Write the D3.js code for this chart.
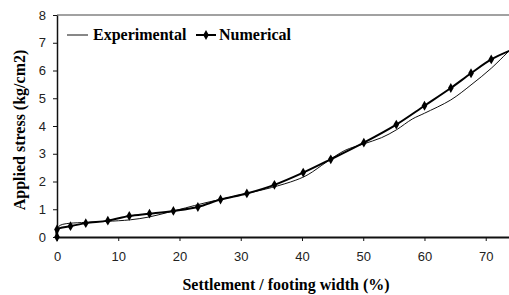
<!DOCTYPE html>
<html>
<head>
<meta charset="utf-8">
<script src="https://cdn.jsdelivr.net/npm/d3@7"></script>
<style>
  body { margin: 0; background: #fff; }
  svg { display: block; }
  .tick text { font-family: 'Liberation Sans', Arial, sans-serif; font-size: 13px; fill: #222; }
  .title { font-family: 'Liberation Serif', 'Times New Roman', serif; font-weight: bold; font-size: 16px; }
</style>
</head>
<body>
<div id="chart"></div>
<script>
// experimental curve
var expX = [0, 0.5, 1.5, 4, 8, 12, 15, 18, 21, 24, 28, 31, 35, 39, 41, 44, 47, 50, 53, 55.4, 58, 60, 64.3, 67.6, 70.9, 74]
var expY = [0.3, 0.42, 0.48, 0.52, 0.56, 0.62, 0.72, 0.88, 1.05, 1.22, 1.42, 1.57, 1.78, 2.05, 2.25, 2.7, 3.12, 3.35, 3.58, 3.86, 4.25, 4.46, 4.94, 5.48, 6.08, 6.75]

// numerical points
var numX = [0, 0, 2.2, 4.7, 8.3, 11.8, 15.1, 19.0, 23.0, 26.7, 31.0, 35.5, 40.2, 44.7, 50.1, 55.4, 60.0, 64.3, 67.6, 70.9, 74]
var numY = [0, 0.27, 0.39, 0.5, 0.59, 0.76, 0.84, 0.94, 1.08, 1.35, 1.57, 1.88, 2.32, 2.8, 3.4, 4.05, 4.73, 5.37, 5.9, 6.4, 6.72]

var xTicks = [0, 10, 20, 30, 40, 50, 60, 70]
var yTicks = [0, 1, 2, 3, 4, 5, 6, 7, 8]

var W = 509
var H = 295
var mLeft = 57
var mTop = 15
var mRight = 509
var mBottom = 237

var x = d3.scaleLinear().domain([0, 73.8]).range([mLeft, mRight])
var y = d3.scaleLinear().domain([0, 8]).range([mBottom, mTop])

var svg = d3.select('#chart').append('svg')
  .attr('width', W)
  .attr('height', H)

// top border of plot area
svg.append('line')
  .attr('x1', mLeft).attr('x2', mRight)
  .attr('y1', mTop).attr('y2', mTop)
  .attr('stroke', '#444').attr('stroke-width', 1.2)

var xAxis = svg.append('g')
  .attr('transform', 'translate(0,' + mBottom + ')')
  .call(d3.axisBottom(x).tickValues(xTicks).tickSize(4).tickSizeOuter(0).tickPadding(11))
xAxis.select('.domain').attr('stroke', '#111').attr('stroke-width', 2)
xAxis.selectAll('.tick line').attr('stroke', '#111')

var yAxis = svg.append('g')
  .attr('transform', 'translate(' + mLeft + ',0)')
  .call(d3.axisLeft(y).tickValues(yTicks).tickSize(4).tickSizeOuter(0).tickPadding(7))
yAxis.select('.domain').attr('stroke', '#111').attr('stroke-width', 1.5)
yAxis.selectAll('.tick line').attr('stroke', '#111')

var expData = expX.map(function (d, i) { return [d, expY[i]] })
var numData = numX.map(function (d, i) { return [d, numY[i]] })

var line = d3.line()
  .x(function (d) { return x(d[0]) })
  .y(function (d) { return y(d[1]) })
  .curve(d3.curveCatmullRom)

var plot = svg.append('g')

plot.append('path')
  .datum(expData)
  .attr('d', line)
  .attr('fill', 'none')
  .attr('stroke', '#111')
  .attr('stroke-width', 1)

plot.append('path')
  .datum(numData)
  .attr('d', line)
  .attr('fill', 'none')
  .attr('stroke', '#000')
  .attr('stroke-width', 2)

var diamond = d3.symbol().type(d3.symbolDiamond).size(28)

plot.selectAll('.pt')
  .data(numData.slice(0, numData.length - 1))
  .enter()
  .append('path')
  .attr('class', 'pt')
  .attr('d', diamond)
  .attr('transform', function (d) {
    return 'translate(' + x(d[0]) + ',' + y(d[1]) + ')'
  })
  .attr('fill', '#000')

// legend
var lg = svg.append('g')
lg.append('line')
  .attr('x1', 67).attr('x2', 88).attr('y1', 35).attr('y2', 35)
  .attr('stroke', '#111').attr('stroke-width', 1)
lg.append('text')
  .attr('class', 'title')
  .attr('x', 93).attr('y', 40)
  .text('Experimental')
lg.append('line')
  .attr('x1', 196).attr('x2', 216).attr('y1', 35).attr('y2', 35)
  .attr('stroke', '#000').attr('stroke-width', 2)
lg.append('path')
  .attr('d', diamond)
  .attr('transform', 'translate(206,35)')
  .attr('fill', '#000')
lg.append('text')
  .attr('class', 'title')
  .attr('x', 219).attr('y', 40)
  .text('Numerical')

// axis titles
svg.append('text')
  .attr('class', 'title')
  .attr('x', 286).attr('y', 290)
  .attr('text-anchor', 'middle')
  .text('Settlement / footing width (%)')

svg.append('text')
  .attr('class', 'title')
  .attr('transform', 'translate(25,130) rotate(-90)')
  .attr('text-anchor', 'middle')
  .text('Applied stress (kg/cm2)')
</script>
</body>
</html>
